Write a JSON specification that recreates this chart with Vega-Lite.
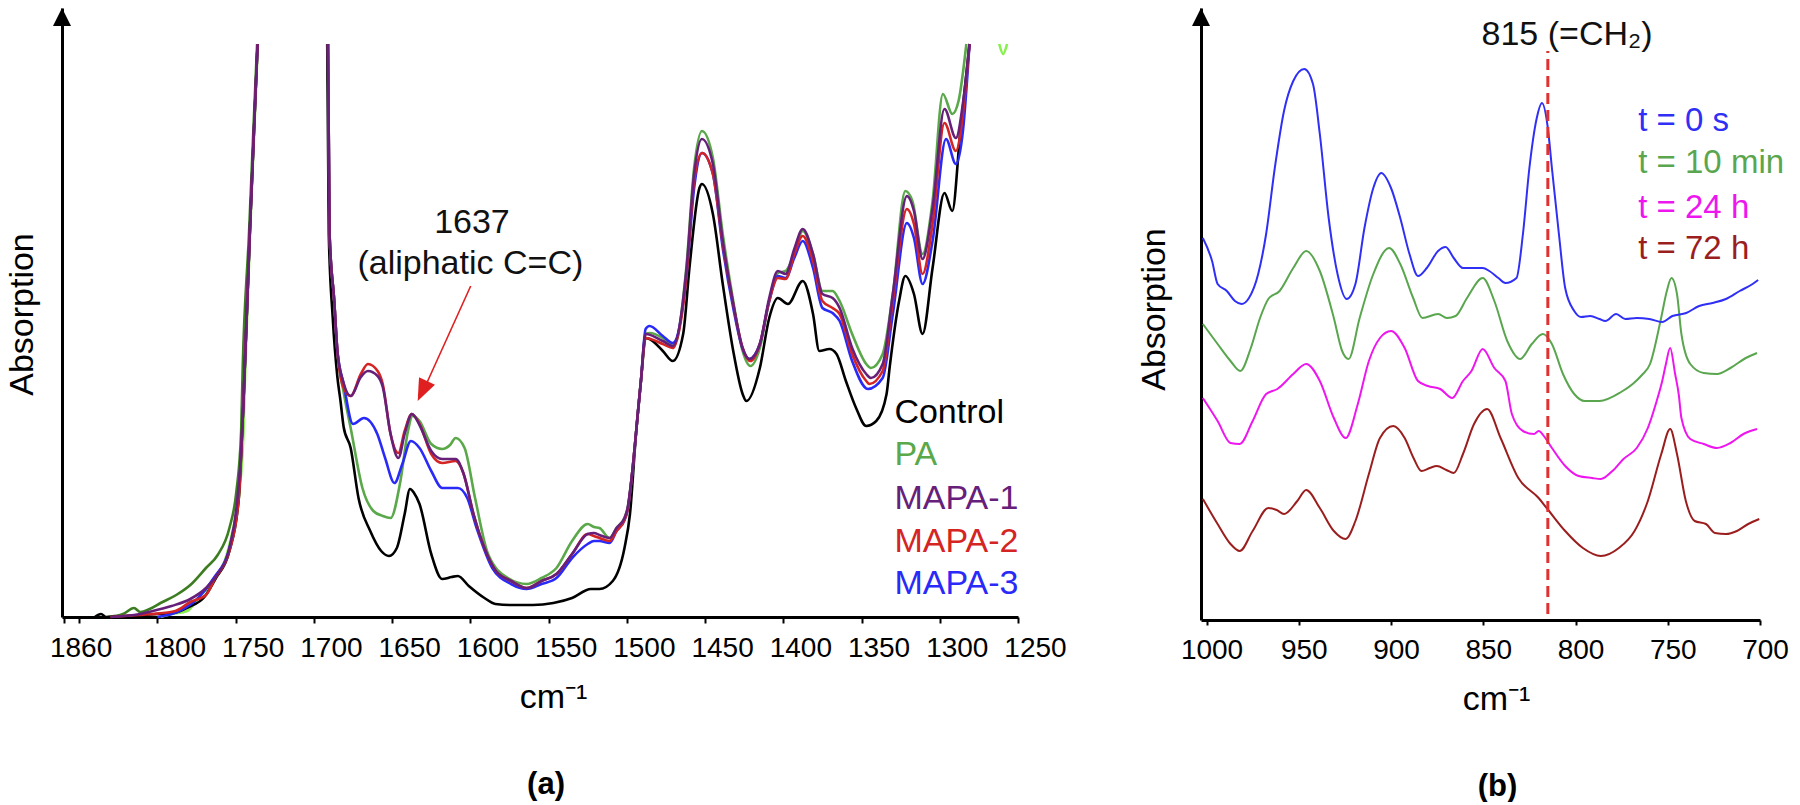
{
"$schema": "https://vega.github.io/schema/vega-lite/v6.json",
"background": "#ffffff",
"padding": {"left": 5, "top": 7, "right": 0, "bottom": 0},
"spacing": 70,
"resolve": {"scale": {"color": "independent"}},
"config": {
 "view": {"stroke": null},
 "axis": {"grid": false, "domainColor": "#000000", "domainWidth": 3, "tickColor": "#000000", "labelColor": "#000000", "titleColor": "#000000", "labelFont": "Liberation Sans", "titleFont": "Liberation Sans", "titleFontWeight": "normal"},
 "text": {"font": "Liberation Sans"}
},
"datasets": {
 "specA": [
  {"s":"lime","g":1,"v":1798,"h":0},{"s":"lime","g":1,"v":1791,"h":3},{"s":"lime","g":1,"v":1781,"h":6},{"s":"lime","g":1,"v":1774,"h":19},{"s":"lime","g":1,"v":1764,"h":36},{"s":"lime","g":1,"v":1757,"h":56},{"s":"lime","g":1,"v":1752,"h":86},{"s":"lime","g":1,"v":1747.5,"h":126},{"s":"lime","g":1,"v":1745,"h":186},{"s":"lime","g":1,"v":1744,"h":240},{"s":"lime","g":1,"v":1740.8,"h":383},{"s":"lime","g":1,"v":1738.2,"h":483},{"s":"lime","g":1,"v":1735.8,"h":573},
  {"s":"lime","g":2,"v":1262,"h":573},{"s":"lime","g":2,"v":1259.5,"h":563},{"s":"lime","g":2,"v":1257,"h":573},
  {"s":"PA edge","g":1,"v":1832,"h":0},{"s":"PA edge","g":1,"v":1822,"h":3},{"s":"PA edge","g":1,"v":1815,"h":9},{"s":"PA edge","g":1,"v":1811,"h":5},{"s":"PA edge","g":1,"v":1805,"h":8},{"s":"PA edge","g":1,"v":1798,"h":14},{"s":"PA edge","g":1,"v":1788,"h":22},{"s":"PA edge","g":1,"v":1779,"h":32},{"s":"PA edge","g":1,"v":1769,"h":49},{"s":"PA edge","g":1,"v":1761.5,"h":62},{"s":"PA edge","g":1,"v":1754,"h":89},{"s":"PA edge","g":1,"v":1749.5,"h":126},{"s":"PA edge","g":1,"v":1746.5,"h":186},{"s":"PA edge","g":1,"v":1745.5,"h":250},{"s":"PA edge","g":1,"v":1741.5,"h":383},{"s":"PA edge","g":1,"v":1738.8,"h":483},{"s":"PA edge","g":1,"v":1736.3,"h":573},
  {"s":"Control","g":1,"v":1840,"h":0},{"s":"Control","g":1,"v":1836,"h":3},{"s":"Control","g":1,"v":1833,"h":0},{"s":"Control","g":1,"v":1820,"h":1},{"s":"Control","g":1,"v":1810,"h":2},{"s":"Control","g":1,"v":1800,"h":3},{"s":"Control","g":1,"v":1790,"h":4},{"s":"Control","g":1,"v":1780,"h":10},{"s":"Control","g":1,"v":1770,"h":20},{"s":"Control","g":1,"v":1763,"h":38},{"s":"Control","g":1,"v":1754,"h":66},{"s":"Control","g":1,"v":1748,"h":119},{"s":"Control","g":1,"v":1746,"h":180},{"s":"Control","g":1,"v":1745,"h":216},{"s":"Control","g":1,"v":1741,"h":383},{"s":"Control","g":1,"v":1738.4,"h":483},{"s":"Control","g":1,"v":1736,"h":573},
  {"s":"Control","g":2,"v":1691.5,"h":573},{"s":"Control","g":2,"v":1690.5,"h":383},{"s":"Control","g":2,"v":1688,"h":300},{"s":"Control","g":2,"v":1685,"h":240},{"s":"Control","g":2,"v":1683,"h":216},{"s":"Control","g":2,"v":1681,"h":190},{"s":"Control","g":2,"v":1676.5,"h":169},{"s":"Control","g":2,"v":1671.5,"h":119},{"s":"Control","g":2,"v":1664,"h":86},{"s":"Control","g":2,"v":1657,"h":66},{"s":"Control","g":2,"v":1652,"h":61},{"s":"Control","g":2,"v":1647,"h":69},{"s":"Control","g":2,"v":1642,"h":103},{"s":"Control","g":2,"v":1638.6,"h":128},{"s":"Control","g":2,"v":1636,"h":124},{"s":"Control","g":2,"v":1632.5,"h":113},{"s":"Control","g":2,"v":1625,"h":63},{"s":"Control","g":2,"v":1618,"h":38},{"s":"Control","g":2,"v":1612,"h":40},{"s":"Control","g":2,"v":1608,"h":41},{"s":"Control","g":2,"v":1601,"h":31},{"s":"Control","g":2,"v":1591,"h":19},{"s":"Control","g":2,"v":1584,"h":13},{"s":"Control","g":2,"v":1574,"h":12},{"s":"Control","g":2,"v":1560,"h":12},{"s":"Control","g":2,"v":1547,"h":14},{"s":"Control","g":2,"v":1535,"h":19},{"s":"Control","g":2,"v":1523,"h":28},{"s":"Control","g":2,"v":1517.5,"h":28},{"s":"Control","g":2,"v":1509,"h":36},{"s":"Control","g":2,"v":1501.5,"h":69},{"s":"Control","g":2,"v":1498,"h":103},{"s":"Control","g":2,"v":1494,"h":186},{"s":"Control","g":2,"v":1491,"h":236},{"s":"Control","g":2,"v":1488,"h":279},{"s":"Control","g":2,"v":1485.5,"h":278},{"s":"Control","g":2,"v":1477,"h":266},{"s":"Control","g":2,"v":1470.6,"h":256},{"s":"Control","g":2,"v":1464,"h":283},{"s":"Control","g":2,"v":1460,"h":349},{"s":"Control","g":2,"v":1453.6,"h":429},{"s":"Control","g":2,"v":1452,"h":433},{"s":"Control","g":2,"v":1445,"h":403},{"s":"Control","g":2,"v":1438.7,"h":333},{"s":"Control","g":2,"v":1432,"h":266},{"s":"Control","g":2,"v":1426,"h":223},{"s":"Control","g":2,"v":1423.6,"h":216},{"s":"Control","g":2,"v":1415,"h":249},{"s":"Control","g":2,"v":1409,"h":299},{"s":"Control","g":2,"v":1403.5,"h":319},{"s":"Control","g":2,"v":1397,"h":313},{"s":"Control","g":2,"v":1387.6,"h":336},{"s":"Control","g":2,"v":1381,"h":303},{"s":"Control","g":2,"v":1377,"h":266},{"s":"Control","g":2,"v":1370.5,"h":268},{"s":"Control","g":2,"v":1366,"h":263},{"s":"Control","g":2,"v":1360,"h":236},{"s":"Control","g":2,"v":1353.5,"h":209},{"s":"Control","g":2,"v":1347,"h":191},{"s":"Control","g":2,"v":1340.6,"h":196},{"s":"Control","g":2,"v":1334,"h":223},{"s":"Control","g":2,"v":1332,"h":250},{"s":"Control","g":2,"v":1326,"h":316},{"s":"Control","g":2,"v":1322,"h":341},{"s":"Control","g":2,"v":1316.5,"h":323},{"s":"Control","g":2,"v":1311,"h":283},{"s":"Control","g":2,"v":1304.6,"h":349},{"s":"Control","g":2,"v":1297,"h":424},{"s":"Control","g":2,"v":1292,"h":406},{"s":"Control","g":2,"v":1287,"h":483},{"s":"Control","g":2,"v":1281,"h":573},
  {"s":"PA","g":2,"v":1691,"h":573},{"s":"PA","g":2,"v":1690,"h":383},{"s":"PA","g":2,"v":1687,"h":316},{"s":"PA","g":2,"v":1685,"h":266},{"s":"PA","g":2,"v":1681,"h":225},{"s":"PA","g":2,"v":1676.5,"h":189},{"s":"PA","g":2,"v":1669,"h":129},{"s":"PA","g":2,"v":1662,"h":106},{"s":"PA","g":2,"v":1656,"h":101},{"s":"PA","g":2,"v":1651,"h":99},{"s":"PA","g":2,"v":1644.7,"h":136},{"s":"PA","g":2,"v":1640,"h":185},{"s":"PA","g":2,"v":1637,"h":201},{"s":"PA","g":2,"v":1632.5,"h":196},{"s":"PA","g":2,"v":1625,"h":173},{"s":"PA","g":2,"v":1618,"h":168},{"s":"PA","g":2,"v":1613,"h":172},{"s":"PA","g":2,"v":1609.4,"h":179},{"s":"PA","g":2,"v":1603.7,"h":169},{"s":"PA","g":2,"v":1597,"h":119},{"s":"PA","g":2,"v":1588.7,"h":63},{"s":"PA","g":2,"v":1576,"h":39},{"s":"PA","g":2,"v":1564,"h":33},{"s":"PA","g":2,"v":1554.5,"h":39},{"s":"PA","g":2,"v":1545,"h":49},{"s":"PA","g":2,"v":1535,"h":76},{"s":"PA","g":2,"v":1525,"h":93},{"s":"PA","g":2,"v":1521,"h":90},{"s":"PA","g":2,"v":1517.5,"h":89},{"s":"PA","g":2,"v":1511,"h":79},{"s":"PA","g":2,"v":1506.6,"h":89},{"s":"PA","g":2,"v":1501.5,"h":99},{"s":"PA","g":2,"v":1499.5,"h":109},{"s":"PA","g":2,"v":1496,"h":153},{"s":"PA","g":2,"v":1493,"h":203},{"s":"PA","g":2,"v":1491,"h":236},{"s":"PA","g":2,"v":1488,"h":283},{"s":"PA","g":2,"v":1485.5,"h":284},{"s":"PA","g":2,"v":1477,"h":279},{"s":"PA","g":2,"v":1471.5,"h":273},{"s":"PA","g":2,"v":1468.5,"h":276},{"s":"PA","g":2,"v":1462,"h":349},{"s":"PA","g":2,"v":1457,"h":449},{"s":"PA","g":2,"v":1452,"h":486},{"s":"PA","g":2,"v":1445,"h":459},{"s":"PA","g":2,"v":1438.7,"h":383},{"s":"PA","g":2,"v":1432,"h":316},{"s":"PA","g":2,"v":1426,"h":266},{"s":"PA","g":2,"v":1421,"h":251},{"s":"PA","g":2,"v":1415,"h":269},{"s":"PA","g":2,"v":1409,"h":316},{"s":"PA","g":2,"v":1403.5,"h":344},{"s":"PA","g":2,"v":1398.5,"h":346},{"s":"PA","g":2,"v":1393,"h":363},{"s":"PA","g":2,"v":1387.6,"h":386},{"s":"PA","g":2,"v":1381,"h":363},{"s":"PA","g":2,"v":1375,"h":326},{"s":"PA","g":2,"v":1368.5,"h":326},{"s":"PA","g":2,"v":1364,"h":316},{"s":"PA","g":2,"v":1356,"h":283},{"s":"PA","g":2,"v":1347,"h":253},{"s":"PA","g":2,"v":1344,"h":249},{"s":"PA","g":2,"v":1336.5,"h":263},{"s":"PA","g":2,"v":1330,"h":323},{"s":"PA","g":2,"v":1322,"h":426},{"s":"PA","g":2,"v":1317.5,"h":416},{"s":"PA","g":2,"v":1311,"h":363},{"s":"PA","g":2,"v":1304.6,"h":416},{"s":"PA","g":2,"v":1298,"h":523},{"s":"PA","g":2,"v":1292,"h":503},{"s":"PA","g":2,"v":1288,"h":516},{"s":"PA","g":2,"v":1283,"h":573},
  {"s":"MAPA-3","g":1,"v":1800,"h":0},{"s":"MAPA-3","g":1,"v":1786,"h":6},{"s":"MAPA-3","g":1,"v":1774,"h":19},{"s":"MAPA-3","g":1,"v":1764,"h":39},{"s":"MAPA-3","g":1,"v":1754,"h":69},{"s":"MAPA-3","g":1,"v":1748,"h":126},{"s":"MAPA-3","g":1,"v":1746,"h":180},{"s":"MAPA-3","g":1,"v":1745,"h":216},{"s":"MAPA-3","g":1,"v":1741,"h":383},{"s":"MAPA-3","g":1,"v":1738.4,"h":483},{"s":"MAPA-3","g":1,"v":1736,"h":573},
  {"s":"MAPA-3","g":2,"v":1691,"h":573},{"s":"MAPA-3","g":2,"v":1690,"h":383},{"s":"MAPA-3","g":2,"v":1687,"h":316},{"s":"MAPA-3","g":2,"v":1685,"h":266},{"s":"MAPA-3","g":2,"v":1681,"h":233},{"s":"MAPA-3","g":2,"v":1675,"h":193},{"s":"MAPA-3","g":2,"v":1668,"h":199},{"s":"MAPA-3","g":2,"v":1659.5,"h":183},{"s":"MAPA-3","g":2,"v":1654.5,"h":159},{"s":"MAPA-3","g":2,"v":1648.5,"h":134},{"s":"MAPA-3","g":2,"v":1643.5,"h":153},{"s":"MAPA-3","g":2,"v":1638,"h":176},{"s":"MAPA-3","g":2,"v":1632.5,"h":169},{"s":"MAPA-3","g":2,"v":1625,"h":146},{"s":"MAPA-3","g":2,"v":1618,"h":129},{"s":"MAPA-3","g":2,"v":1608,"h":129},{"s":"MAPA-3","g":2,"v":1602,"h":119},{"s":"MAPA-3","g":2,"v":1596,"h":89},{"s":"MAPA-3","g":2,"v":1586,"h":49},{"s":"MAPA-3","g":2,"v":1574,"h":33},{"s":"MAPA-3","g":2,"v":1564,"h":28},{"s":"MAPA-3","g":2,"v":1554.5,"h":33},{"s":"MAPA-3","g":2,"v":1545,"h":39},{"s":"MAPA-3","g":2,"v":1535,"h":59},{"s":"MAPA-3","g":2,"v":1525,"h":73},{"s":"MAPA-3","g":2,"v":1521,"h":76},{"s":"MAPA-3","g":2,"v":1517.5,"h":76},{"s":"MAPA-3","g":2,"v":1511,"h":74},{"s":"MAPA-3","g":2,"v":1506.6,"h":86},{"s":"MAPA-3","g":2,"v":1501.5,"h":97},{"s":"MAPA-3","g":2,"v":1499.5,"h":107},{"s":"MAPA-3","g":2,"v":1496,"h":153},{"s":"MAPA-3","g":2,"v":1493,"h":203},{"s":"MAPA-3","g":2,"v":1491,"h":236},{"s":"MAPA-3","g":2,"v":1488,"h":288},{"s":"MAPA-3","g":2,"v":1485.5,"h":291},{"s":"MAPA-3","g":2,"v":1477,"h":281},{"s":"MAPA-3","g":2,"v":1470.6,"h":274},{"s":"MAPA-3","g":2,"v":1462,"h":339},{"s":"MAPA-3","g":2,"v":1457,"h":429},{"s":"MAPA-3","g":2,"v":1452,"h":464},{"s":"MAPA-3","g":2,"v":1445,"h":443},{"s":"MAPA-3","g":2,"v":1438.7,"h":369},{"s":"MAPA-3","g":2,"v":1432,"h":309},{"s":"MAPA-3","g":2,"v":1426,"h":268},{"s":"MAPA-3","g":2,"v":1421.7,"h":258},{"s":"MAPA-3","g":2,"v":1415,"h":273},{"s":"MAPA-3","g":2,"v":1409,"h":316},{"s":"MAPA-3","g":2,"v":1403.5,"h":341},{"s":"MAPA-3","g":2,"v":1398.5,"h":339},{"s":"MAPA-3","g":2,"v":1393,"h":359},{"s":"MAPA-3","g":2,"v":1387.6,"h":376},{"s":"MAPA-3","g":2,"v":1381,"h":349},{"s":"MAPA-3","g":2,"v":1375,"h":309},{"s":"MAPA-3","g":2,"v":1368.5,"h":304},{"s":"MAPA-3","g":2,"v":1364,"h":296},{"s":"MAPA-3","g":2,"v":1356,"h":256},{"s":"MAPA-3","g":2,"v":1346,"h":228},{"s":"MAPA-3","g":2,"v":1336.5,"h":239},{"s":"MAPA-3","g":2,"v":1330,"h":303},{"s":"MAPA-3","g":2,"v":1321,"h":394},{"s":"MAPA-3","g":2,"v":1316.5,"h":379},{"s":"MAPA-3","g":2,"v":1311,"h":333},{"s":"MAPA-3","g":2,"v":1304.6,"h":376},{"s":"MAPA-3","g":2,"v":1296,"h":478},{"s":"MAPA-3","g":2,"v":1289.7,"h":453},{"s":"MAPA-3","g":2,"v":1285,"h":489},{"s":"MAPA-3","g":2,"v":1281,"h":573},
  {"s":"MAPA-2","g":1,"v":1830,"h":0},{"s":"MAPA-2","g":1,"v":1812,"h":2},{"s":"MAPA-2","g":1,"v":1803,"h":3},{"s":"MAPA-2","g":1,"v":1788.5,"h":6},{"s":"MAPA-2","g":1,"v":1779,"h":15},{"s":"MAPA-2","g":1,"v":1769,"h":22},{"s":"MAPA-2","g":1,"v":1763,"h":39},{"s":"MAPA-2","g":1,"v":1754,"h":66},{"s":"MAPA-2","g":1,"v":1748,"h":119},{"s":"MAPA-2","g":1,"v":1746,"h":180},{"s":"MAPA-2","g":1,"v":1745,"h":216},{"s":"MAPA-2","g":1,"v":1741,"h":383},{"s":"MAPA-2","g":1,"v":1738.4,"h":483},{"s":"MAPA-2","g":1,"v":1736,"h":573},
  {"s":"MAPA-2","g":2,"v":1691,"h":573},{"s":"MAPA-2","g":2,"v":1690,"h":383},{"s":"MAPA-2","g":2,"v":1687,"h":316},{"s":"MAPA-2","g":2,"v":1685,"h":266},{"s":"MAPA-2","g":2,"v":1681,"h":229},{"s":"MAPA-2","g":2,"v":1676.5,"h":221},{"s":"MAPA-2","g":2,"v":1670,"h":243},{"s":"MAPA-2","g":2,"v":1665.5,"h":253},{"s":"MAPA-2","g":2,"v":1659.3,"h":246},{"s":"MAPA-2","g":2,"v":1656,"h":233},{"s":"MAPA-2","g":2,"v":1651,"h":183},{"s":"MAPA-2","g":2,"v":1646,"h":164},{"s":"MAPA-2","g":2,"v":1642,"h":186},{"s":"MAPA-2","g":2,"v":1637.4,"h":203},{"s":"MAPA-2","g":2,"v":1632.5,"h":193},{"s":"MAPA-2","g":2,"v":1625,"h":163},{"s":"MAPA-2","g":2,"v":1618,"h":154},{"s":"MAPA-2","g":2,"v":1609.4,"h":156},{"s":"MAPA-2","g":2,"v":1604.5,"h":144},{"s":"MAPA-2","g":2,"v":1598,"h":103},{"s":"MAPA-2","g":2,"v":1591,"h":69},{"s":"MAPA-2","g":2,"v":1583.7,"h":46},{"s":"MAPA-2","g":2,"v":1574,"h":36},{"s":"MAPA-2","g":2,"v":1564,"h":29},{"s":"MAPA-2","g":2,"v":1554.5,"h":36},{"s":"MAPA-2","g":2,"v":1545,"h":43},{"s":"MAPA-2","g":2,"v":1535,"h":63},{"s":"MAPA-2","g":2,"v":1525,"h":83},{"s":"MAPA-2","g":2,"v":1521,"h":81},{"s":"MAPA-2","g":2,"v":1517.5,"h":79},{"s":"MAPA-2","g":2,"v":1511,"h":76},{"s":"MAPA-2","g":2,"v":1506.6,"h":86},{"s":"MAPA-2","g":2,"v":1501.5,"h":97},{"s":"MAPA-2","g":2,"v":1499.5,"h":107},{"s":"MAPA-2","g":2,"v":1496,"h":153},{"s":"MAPA-2","g":2,"v":1493,"h":203},{"s":"MAPA-2","g":2,"v":1491,"h":236},{"s":"MAPA-2","g":2,"v":1488,"h":279},{"s":"MAPA-2","g":2,"v":1477,"h":273},{"s":"MAPA-2","g":2,"v":1470.6,"h":269},{"s":"MAPA-2","g":2,"v":1462,"h":339},{"s":"MAPA-2","g":2,"v":1457,"h":436},{"s":"MAPA-2","g":2,"v":1452,"h":464},{"s":"MAPA-2","g":2,"v":1445,"h":443},{"s":"MAPA-2","g":2,"v":1438.7,"h":373},{"s":"MAPA-2","g":2,"v":1432,"h":313},{"s":"MAPA-2","g":2,"v":1426,"h":269},{"s":"MAPA-2","g":2,"v":1421,"h":256},{"s":"MAPA-2","g":2,"v":1415,"h":273},{"s":"MAPA-2","g":2,"v":1409,"h":316},{"s":"MAPA-2","g":2,"v":1403.5,"h":339},{"s":"MAPA-2","g":2,"v":1398.5,"h":338},{"s":"MAPA-2","g":2,"v":1393,"h":363},{"s":"MAPA-2","g":2,"v":1387.6,"h":381},{"s":"MAPA-2","g":2,"v":1381,"h":356},{"s":"MAPA-2","g":2,"v":1375,"h":316},{"s":"MAPA-2","g":2,"v":1368.5,"h":309},{"s":"MAPA-2","g":2,"v":1364,"h":303},{"s":"MAPA-2","g":2,"v":1356,"h":263},{"s":"MAPA-2","g":2,"v":1347,"h":236},{"s":"MAPA-2","g":2,"v":1345,"h":233},{"s":"MAPA-2","g":2,"v":1336.5,"h":246},{"s":"MAPA-2","g":2,"v":1330,"h":316},{"s":"MAPA-2","g":2,"v":1321,"h":408},{"s":"MAPA-2","g":2,"v":1316.5,"h":393},{"s":"MAPA-2","g":2,"v":1311,"h":343},{"s":"MAPA-2","g":2,"v":1304.6,"h":393},{"s":"MAPA-2","g":2,"v":1297,"h":494},{"s":"MAPA-2","g":2,"v":1289.7,"h":466},{"s":"MAPA-2","g":2,"v":1285,"h":506},{"s":"MAPA-2","g":2,"v":1281,"h":573},
  {"s":"MAPA-1","g":1,"v":1830,"h":0},{"s":"MAPA-1","g":1,"v":1815,"h":2},{"s":"MAPA-1","g":1,"v":1803,"h":6},{"s":"MAPA-1","g":1,"v":1791,"h":11},{"s":"MAPA-1","g":1,"v":1779,"h":18},{"s":"MAPA-1","g":1,"v":1769,"h":29},{"s":"MAPA-1","g":1,"v":1762,"h":42},{"s":"MAPA-1","g":1,"v":1754,"h":69},{"s":"MAPA-1","g":1,"v":1749.5,"h":109},{"s":"MAPA-1","g":1,"v":1747,"h":153},{"s":"MAPA-1","g":1,"v":1745,"h":216},{"s":"MAPA-1","g":1,"v":1741,"h":383},{"s":"MAPA-1","g":1,"v":1738.4,"h":483},{"s":"MAPA-1","g":1,"v":1736,"h":573},
  {"s":"MAPA-1","g":2,"v":1691,"h":573},{"s":"MAPA-1","g":2,"v":1690,"h":383},{"s":"MAPA-1","g":2,"v":1687,"h":316},{"s":"MAPA-1","g":2,"v":1685,"h":266},{"s":"MAPA-1","g":2,"v":1681,"h":234},{"s":"MAPA-1","g":2,"v":1676.5,"h":221},{"s":"MAPA-1","g":2,"v":1670,"h":240},{"s":"MAPA-1","g":2,"v":1665.5,"h":246},{"s":"MAPA-1","g":2,"v":1659.3,"h":241},{"s":"MAPA-1","g":2,"v":1656,"h":230},{"s":"MAPA-1","g":2,"v":1651,"h":183},{"s":"MAPA-1","g":2,"v":1646,"h":159},{"s":"MAPA-1","g":2,"v":1642,"h":183},{"s":"MAPA-1","g":2,"v":1637.4,"h":203},{"s":"MAPA-1","g":2,"v":1632.5,"h":192},{"s":"MAPA-1","g":2,"v":1625,"h":166},{"s":"MAPA-1","g":2,"v":1618,"h":158},{"s":"MAPA-1","g":2,"v":1609.4,"h":158},{"s":"MAPA-1","g":2,"v":1604.5,"h":144},{"s":"MAPA-1","g":2,"v":1598,"h":103},{"s":"MAPA-1","g":2,"v":1591,"h":69},{"s":"MAPA-1","g":2,"v":1583.7,"h":46},{"s":"MAPA-1","g":2,"v":1574,"h":36},{"s":"MAPA-1","g":2,"v":1564,"h":29},{"s":"MAPA-1","g":2,"v":1554.5,"h":36},{"s":"MAPA-1","g":2,"v":1545,"h":43},{"s":"MAPA-1","g":2,"v":1535,"h":63},{"s":"MAPA-1","g":2,"v":1525,"h":83},{"s":"MAPA-1","g":2,"v":1521,"h":84},{"s":"MAPA-1","g":2,"v":1517.5,"h":82},{"s":"MAPA-1","g":2,"v":1511,"h":79},{"s":"MAPA-1","g":2,"v":1506.6,"h":89},{"s":"MAPA-1","g":2,"v":1501.5,"h":99},{"s":"MAPA-1","g":2,"v":1499.5,"h":109},{"s":"MAPA-1","g":2,"v":1496,"h":153},{"s":"MAPA-1","g":2,"v":1493,"h":203},{"s":"MAPA-1","g":2,"v":1491,"h":236},{"s":"MAPA-1","g":2,"v":1488,"h":283},{"s":"MAPA-1","g":2,"v":1477,"h":276},{"s":"MAPA-1","g":2,"v":1470.6,"h":271},{"s":"MAPA-1","g":2,"v":1462,"h":346},{"s":"MAPA-1","g":2,"v":1457,"h":443},{"s":"MAPA-1","g":2,"v":1452,"h":478},{"s":"MAPA-1","g":2,"v":1445,"h":453},{"s":"MAPA-1","g":2,"v":1438.7,"h":376},{"s":"MAPA-1","g":2,"v":1432,"h":313},{"s":"MAPA-1","g":2,"v":1426,"h":269},{"s":"MAPA-1","g":2,"v":1421.7,"h":258},{"s":"MAPA-1","g":2,"v":1415,"h":273},{"s":"MAPA-1","g":2,"v":1409,"h":319},{"s":"MAPA-1","g":2,"v":1403.5,"h":346},{"s":"MAPA-1","g":2,"v":1398.5,"h":343},{"s":"MAPA-1","g":2,"v":1393,"h":368},{"s":"MAPA-1","g":2,"v":1387.6,"h":388},{"s":"MAPA-1","g":2,"v":1381,"h":363},{"s":"MAPA-1","g":2,"v":1375,"h":323},{"s":"MAPA-1","g":2,"v":1368.5,"h":319},{"s":"MAPA-1","g":2,"v":1364,"h":309},{"s":"MAPA-1","g":2,"v":1356,"h":269},{"s":"MAPA-1","g":2,"v":1347,"h":243},{"s":"MAPA-1","g":2,"v":1344,"h":239},{"s":"MAPA-1","g":2,"v":1336.5,"h":253},{"s":"MAPA-1","g":2,"v":1330,"h":323},{"s":"MAPA-1","g":2,"v":1321,"h":421},{"s":"MAPA-1","g":2,"v":1316.5,"h":406},{"s":"MAPA-1","g":2,"v":1311,"h":358},{"s":"MAPA-1","g":2,"v":1304.6,"h":409},{"s":"MAPA-1","g":2,"v":1297,"h":508},{"s":"MAPA-1","g":2,"v":1289.7,"h":479},{"s":"MAPA-1","g":2,"v":1285,"h":516},{"s":"MAPA-1","g":2,"v":1281,"h":573}
 ],
 "specB": [
  {"s":"t = 72 h","v":1002,"h":121},{"s":"t = 72 h","v":994,"h":96},{"s":"t = 72 h","v":987,"h":76},{"s":"t = 72 h","v":982,"h":69},{"s":"t = 72 h","v":975,"h":89},{"s":"t = 72 h","v":966.5,"h":112},{"s":"t = 72 h","v":962,"h":110},{"s":"t = 72 h","v":958,"h":106},{"s":"t = 72 h","v":950.8,"h":119},{"s":"t = 72 h","v":946,"h":130},{"s":"t = 72 h","v":938.6,"h":112},{"s":"t = 72 h","v":931,"h":89},{"s":"t = 72 h","v":924.6,"h":81},{"s":"t = 72 h","v":919.3,"h":99},{"s":"t = 72 h","v":912,"h":146},{"s":"t = 72 h","v":906,"h":182},{"s":"t = 72 h","v":898.8,"h":194},{"s":"t = 72 h","v":892.6,"h":182},{"s":"t = 72 h","v":887.8,"h":162},{"s":"t = 72 h","v":883.5,"h":149},{"s":"t = 72 h","v":879,"h":152},{"s":"t = 72 h","v":875.2,"h":154},{"s":"t = 72 h","v":870,"h":150},{"s":"t = 72 h","v":866,"h":147},{"s":"t = 72 h","v":861,"h":166},{"s":"t = 72 h","v":855,"h":196},{"s":"t = 72 h","v":847.9,"h":211},{"s":"t = 72 h","v":840.6,"h":182},{"s":"t = 72 h","v":831,"h":142},{"s":"t = 72 h","v":820,"h":122},{"s":"t = 72 h","v":815.2,"h":111},{"s":"t = 72 h","v":805.6,"h":89},{"s":"t = 72 h","v":796,"h":72},{"s":"t = 72 h","v":786.3,"h":64},{"s":"t = 72 h","v":776.5,"h":72},{"s":"t = 72 h","v":768,"h":89},{"s":"t = 72 h","v":760.8,"h":119},{"s":"t = 72 h","v":753.5,"h":166},{"s":"t = 72 h","v":748.7,"h":191},{"s":"t = 72 h","v":745,"h":166},{"s":"t = 72 h","v":740.2,"h":119},{"s":"t = 72 h","v":735.4,"h":99},{"s":"t = 72 h","v":729.3,"h":96},{"s":"t = 72 h","v":724.4,"h":87},{"s":"t = 72 h","v":718.5,"h":86},{"s":"t = 72 h","v":712.5,"h":89},{"s":"t = 72 h","v":706.4,"h":96},{"s":"t = 72 h","v":700.4,"h":101},
  {"s":"t = 24 h","v":1002,"h":222},{"s":"t = 24 h","v":994,"h":199},{"s":"t = 24 h","v":987,"h":177},{"s":"t = 24 h","v":982,"h":176},{"s":"t = 24 h","v":975,"h":199},{"s":"t = 24 h","v":967.7,"h":226},{"s":"t = 24 h","v":961.6,"h":231},{"s":"t = 24 h","v":953,"h":246},{"s":"t = 24 h","v":946,"h":256},{"s":"t = 24 h","v":938.6,"h":239},{"s":"t = 24 h","v":931,"h":202},{"s":"t = 24 h","v":924.6,"h":182},{"s":"t = 24 h","v":918,"h":216},{"s":"t = 24 h","v":912,"h":259},{"s":"t = 24 h","v":906,"h":282},{"s":"t = 24 h","v":900,"h":289},{"s":"t = 24 h","v":892.6,"h":272},{"s":"t = 24 h","v":885.4,"h":239},{"s":"t = 24 h","v":880,"h":234},{"s":"t = 24 h","v":873.3,"h":231},{"s":"t = 24 h","v":866.8,"h":222},{"s":"t = 24 h","v":861,"h":239},{"s":"t = 24 h","v":856.4,"h":249},{"s":"t = 24 h","v":850.3,"h":271},{"s":"t = 24 h","v":844,"h":252},{"s":"t = 24 h","v":838,"h":239},{"s":"t = 24 h","v":834.5,"h":206},{"s":"t = 24 h","v":828.5,"h":189},{"s":"t = 24 h","v":822.5,"h":186},{"s":"t = 24 h","v":820,"h":189},{"s":"t = 24 h","v":816.4,"h":182},{"s":"t = 24 h","v":812.8,"h":172},{"s":"t = 24 h","v":805.6,"h":154},{"s":"t = 24 h","v":798.3,"h":144},{"s":"t = 24 h","v":791,"h":142},{"s":"t = 24 h","v":786.3,"h":141},{"s":"t = 24 h","v":780,"h":149},{"s":"t = 24 h","v":774,"h":161},{"s":"t = 24 h","v":766.8,"h":172},{"s":"t = 24 h","v":760.8,"h":192},{"s":"t = 24 h","v":756,"h":219},{"s":"t = 24 h","v":753,"h":239},{"s":"t = 24 h","v":751,"h":256},{"s":"t = 24 h","v":748.7,"h":272},{"s":"t = 24 h","v":746,"h":246},{"s":"t = 24 h","v":744,"h":225},{"s":"t = 24 h","v":742.6,"h":202},{"s":"t = 24 h","v":737.8,"h":181},{"s":"t = 24 h","v":730.5,"h":176},{"s":"t = 24 h","v":723.3,"h":172},{"s":"t = 24 h","v":716,"h":177},{"s":"t = 24 h","v":709,"h":186},{"s":"t = 24 h","v":701.6,"h":191},
  {"s":"t = 10 min","v":1002,"h":296},{"s":"t = 10 min","v":994,"h":276},{"s":"t = 10 min","v":987,"h":259},{"s":"t = 10 min","v":981.7,"h":249},{"s":"t = 10 min","v":976,"h":272},{"s":"t = 10 min","v":971,"h":302},{"s":"t = 10 min","v":966.5,"h":321},{"s":"t = 10 min","v":960.4,"h":329},{"s":"t = 10 min","v":953,"h":352},{"s":"t = 10 min","v":946,"h":369},{"s":"t = 10 min","v":938.6,"h":349},{"s":"t = 10 min","v":931,"h":302},{"s":"t = 10 min","v":926.5,"h":269},{"s":"t = 10 min","v":923,"h":261},{"s":"t = 10 min","v":917,"h":302},{"s":"t = 10 min","v":909.6,"h":346},{"s":"t = 10 min","v":901,"h":372},{"s":"t = 10 min","v":895,"h":356},{"s":"t = 10 min","v":888,"h":322},{"s":"t = 10 min","v":883,"h":302},{"s":"t = 10 min","v":874.5,"h":306},{"s":"t = 10 min","v":869.7,"h":302},{"s":"t = 10 min","v":865,"h":304},{"s":"t = 10 min","v":858.8,"h":322},{"s":"t = 10 min","v":850.3,"h":342},{"s":"t = 10 min","v":844,"h":319},{"s":"t = 10 min","v":837,"h":279},{"s":"t = 10 min","v":830,"h":261},{"s":"t = 10 min","v":823.7,"h":276},{"s":"t = 10 min","v":817.7,"h":286},{"s":"t = 10 min","v":812.8,"h":276},{"s":"t = 10 min","v":806.8,"h":246},{"s":"t = 10 min","v":800.7,"h":226},{"s":"t = 10 min","v":795,"h":219},{"s":"t = 10 min","v":787,"h":219},{"s":"t = 10 min","v":775.3,"h":228},{"s":"t = 10 min","v":769,"h":236},{"s":"t = 10 min","v":764,"h":245},{"s":"t = 10 min","v":759.6,"h":256},{"s":"t = 10 min","v":753.6,"h":302},{"s":"t = 10 min","v":750.5,"h":329},{"s":"t = 10 min","v":748,"h":342},{"s":"t = 10 min","v":745,"h":326},{"s":"t = 10 min","v":742.6,"h":286},{"s":"t = 10 min","v":737.8,"h":256},{"s":"t = 10 min","v":730.5,"h":247},{"s":"t = 10 min","v":723.3,"h":246},{"s":"t = 10 min","v":716,"h":252},{"s":"t = 10 min","v":707.7,"h":262},{"s":"t = 10 min","v":701.6,"h":267},
  {"s":"t = 0 s","v":1002,"h":382},{"s":"t = 0 s","v":997,"h":359},{"s":"t = 0 s","v":994,"h":336},{"s":"t = 0 s","v":989,"h":329},{"s":"t = 0 s","v":984.6,"h":319},{"s":"t = 0 s","v":981,"h":316},{"s":"t = 0 s","v":977,"h":322},{"s":"t = 0 s","v":972,"h":346},{"s":"t = 0 s","v":967.7,"h":386},{"s":"t = 0 s","v":963,"h":452},{"s":"t = 0 s","v":958,"h":509},{"s":"t = 0 s","v":953,"h":539},{"s":"t = 0 s","v":947,"h":551},{"s":"t = 0 s","v":942.3,"h":536},{"s":"t = 0 s","v":938.6,"h":486},{"s":"t = 0 s","v":933.8,"h":402},{"s":"t = 0 s","v":929,"h":346},{"s":"t = 0 s","v":924,"h":321},{"s":"t = 0 s","v":919.3,"h":336},{"s":"t = 0 s","v":914.4,"h":392},{"s":"t = 0 s","v":909.6,"h":432},{"s":"t = 0 s","v":905.3,"h":447},{"s":"t = 0 s","v":900,"h":432},{"s":"t = 0 s","v":895,"h":402},{"s":"t = 0 s","v":890,"h":366},{"s":"t = 0 s","v":885.4,"h":344},{"s":"t = 0 s","v":880.6,"h":352},{"s":"t = 0 s","v":874.5,"h":369},{"s":"t = 0 s","v":870.4,"h":373},{"s":"t = 0 s","v":866,"h":362},{"s":"t = 0 s","v":861,"h":352},{"s":"t = 0 s","v":856.4,"h":352},{"s":"t = 0 s","v":850.3,"h":352},{"s":"t = 0 s","v":846.7,"h":349},{"s":"t = 0 s","v":841.8,"h":342},{"s":"t = 0 s","v":838,"h":337},{"s":"t = 0 s","v":832,"h":342},{"s":"t = 0 s","v":828.5,"h":386},{"s":"t = 0 s","v":825,"h":452},{"s":"t = 0 s","v":821,"h":502},{"s":"t = 0 s","v":818.2,"h":517},{"s":"t = 0 s","v":815,"h":492},{"s":"t = 0 s","v":812.8,"h":452},{"s":"t = 0 s","v":809,"h":386},{"s":"t = 0 s","v":805.6,"h":332},{"s":"t = 0 s","v":800.7,"h":309},{"s":"t = 0 s","v":797,"h":303},{"s":"t = 0 s","v":792,"h":304},{"s":"t = 0 s","v":787,"h":301},{"s":"t = 0 s","v":783.8,"h":299},{"s":"t = 0 s","v":778,"h":306},{"s":"t = 0 s","v":773,"h":301},{"s":"t = 0 s","v":766.8,"h":302},{"s":"t = 0 s","v":760,"h":301},{"s":"t = 0 s","v":753,"h":298},{"s":"t = 0 s","v":747.5,"h":304},{"s":"t = 0 s","v":740,"h":307},{"s":"t = 0 s","v":733,"h":314},{"s":"t = 0 s","v":725.7,"h":317},{"s":"t = 0 s","v":718.5,"h":321},{"s":"t = 0 s","v":711,"h":329},{"s":"t = 0 s","v":704,"h":336},{"s":"t = 0 s","v":701,"h":340}
 ]
},
"hconcat": [
 {
  "width": 956, "height": 609,
  "title": {"text": "(a)", "orient": "bottom", "frame": "group", "anchor": "middle", "fontSize": 31, "fontWeight": "bold", "font": "Liberation Sans", "color": "#000000", "offset": 56, "dx": 6},
  "encoding": {
   "x": {"field": "v", "type": "quantitative",
    "scale": {"domain": [1250, 1861], "reverse": true, "nice": false, "zero": false},
    "axis": {"values": [1860,1850,1800,1750,1700,1650,1600,1550,1500,1450,1400,1350,1300,1250], "format": "d", "labelExpr": "datum.value == 1850 ? '' : datum.label", "labelFontSize": 28, "labelOffset": 17, "labelPadding": 11, "labelFlush": false, "labelOverlap": false, "tickSize": 6, "tickWidth": 2, "title": "cm⁻¹", "titleFontSize": 34, "titlePadding": 18, "titleX": 491}},
   "y": {"field": "h", "type": "quantitative",
    "scale": {"domain": [0, 609], "nice": false, "zero": false},
    "axis": {"title": "Absorption", "labels": false, "ticks": false, "titleFontSize": 34, "titleX": -40, "titleY": 306, "titleAngle": -90, "titleBaseline": "middle", "titleAlign": "center"}}
  },
  "layer": [
   {"data": {"name": "specA"},
    "mark": {"type": "line", "strokeWidth": 2.6, "interpolate": "monotone"},
    "encoding": {
     "color": {"field": "s", "type": "nominal", "legend": null,
      "scale": {"domain": ["lime","PA edge","Control","PA","MAPA-3","MAPA-2","MAPA-1"], "range": ["#86f04c","#3c7d22","#000000","#5aa84a","#2a2af8","#d42424","#67207a"]}},
     "detail": {"field": "g", "type": "nominal"},
     "order": {"field": "v", "sort": "descending"}}},
   {"data": {"values": [{"v": 1599.8, "h": 331, "v2": 1629, "h2": 230}]},
    "mark": {"type": "rule", "color": "#e02020", "strokeWidth": 1.6},
    "encoding": {"x2": {"field": "v2"}, "y2": {"field": "h2"}}},
   {"data": {"values": [{"v": 1630.7, "h": 226}]},
    "mark": {"type": "point", "shape": "M-0.8,-1L0.8,-1L0,1Z", "size": 484, "filled": true, "color": "#e02020", "opacity": 1, "angle": 25}},
   {"data": {"values": [{"v": 1599, "h": 384, "t": "1637"}, {"v": 1600, "h": 343, "t": "(aliphatic C=C)"}]},
    "mark": {"type": "text", "fontSize": 34, "font": "Liberation Sans", "color": "#111111", "align": "center", "baseline": "alphabetic"},
    "encoding": {"text": {"field": "t"}}},
   {"data": {"values": [{"s": "Control", "v": 1329, "h": 194}, {"s": "PA", "v": 1329, "h": 152}, {"s": "MAPA-1", "v": 1329, "h": 108}, {"s": "MAPA-2", "v": 1329, "h": 65}, {"s": "MAPA-3", "v": 1329, "h": 23}]},
    "mark": {"type": "text", "fontSize": 34, "font": "Liberation Sans", "align": "left", "baseline": "alphabetic"},
    "encoding": {"text": {"field": "s"},
     "color": {"field": "s", "type": "nominal", "legend": null,
      "scale": {"domain": ["lime","PA edge","Control","PA","MAPA-3","MAPA-2","MAPA-1"], "range": ["#86f04c","#3c7d22","#000000","#5aa84a","#2a2af8","#d42424","#67207a"]}}}},
   {"data": {"values": [{"v": 1861, "h": 600}]},
    "mark": {"type": "point", "shape": "M0,-1L1,1L-1,1Z", "size": 324, "filled": true, "color": "#000000", "opacity": 1}}
  ]
 },
 {
  "width": 559, "height": 612,
  "title": {"text": "(b)", "orient": "bottom", "frame": "group", "anchor": "middle", "fontSize": 31, "fontWeight": "bold", "font": "Liberation Sans", "color": "#000000", "offset": 56, "dx": 17},
  "encoding": {
   "x": {"field": "v", "type": "quantitative",
    "scale": {"domain": [700, 1003], "reverse": true, "nice": false, "zero": false},
    "axis": {"values": [1000,950,900,850,800,750,700], "format": "d", "labelFontSize": 28, "labelOffset": 5, "labelPadding": 11, "labelFlush": false, "labelOverlap": false, "tickSize": 5, "tickWidth": 2, "title": "cm⁻¹", "titleFontSize": 34, "titlePadding": 18, "titleX": 295}},
   "y": {"field": "h", "type": "quantitative",
    "scale": {"domain": [0, 612], "nice": false, "zero": false},
    "axis": {"title": "Absorption", "labels": false, "ticks": false, "titleFontSize": 34, "titleX": -47, "titleY": 301, "titleAngle": -90, "titleBaseline": "middle", "titleAlign": "center"}}
  },
  "layer": [
   {"data": {"name": "specB"},
    "mark": {"type": "line", "strokeWidth": 2, "interpolate": "monotone"},
    "encoding": {
     "color": {"field": "s", "type": "nominal", "legend": null,
      "scale": {"domain": ["t = 72 h","t = 24 h","t = 10 min","t = 0 s"], "range": ["#9b1e1e","#ee16ee","#5aa64f","#2f2ff5"]}},
     "order": {"field": "v", "sort": "descending"}}},
   {"data": {"values": [{"v": 815, "h": 6, "h2": 569}]},
    "mark": {"type": "rule", "color": "#e03030", "strokeWidth": 3, "strokeDash": [11, 6]},
    "encoding": {"y2": {"field": "h2"}}},
   {"data": {"values": [{"v": 804.6, "h": 575, "t": "815 (=CH₂)"}]},
    "mark": {"type": "text", "fontSize": 34, "font": "Liberation Sans", "color": "#111111", "align": "center", "baseline": "alphabetic"},
    "encoding": {"text": {"field": "t"}}},
   {"data": {"values": [{"s": "t = 0 s", "v": 766, "h": 489}, {"s": "t = 10 min", "v": 766, "h": 447}, {"s": "t = 24 h", "v": 766, "h": 402}, {"s": "t = 72 h", "v": 766, "h": 361}]},
    "mark": {"type": "text", "fontSize": 33, "font": "Liberation Sans", "align": "left", "baseline": "alphabetic"},
    "encoding": {"text": {"field": "s"},
     "color": {"field": "s", "type": "nominal", "legend": null,
      "scale": {"domain": ["t = 72 h","t = 24 h","t = 10 min","t = 0 s"], "range": ["#9b1e1e","#ee16ee","#5aa64f","#2f2ff5"]}}}},
   {"data": {"values": [{"v": 1003, "h": 603}]},
    "mark": {"type": "point", "shape": "M0,-1L1,1L-1,1Z", "size": 324, "filled": true, "color": "#000000", "opacity": 1}}
  ]
 }
]
}
